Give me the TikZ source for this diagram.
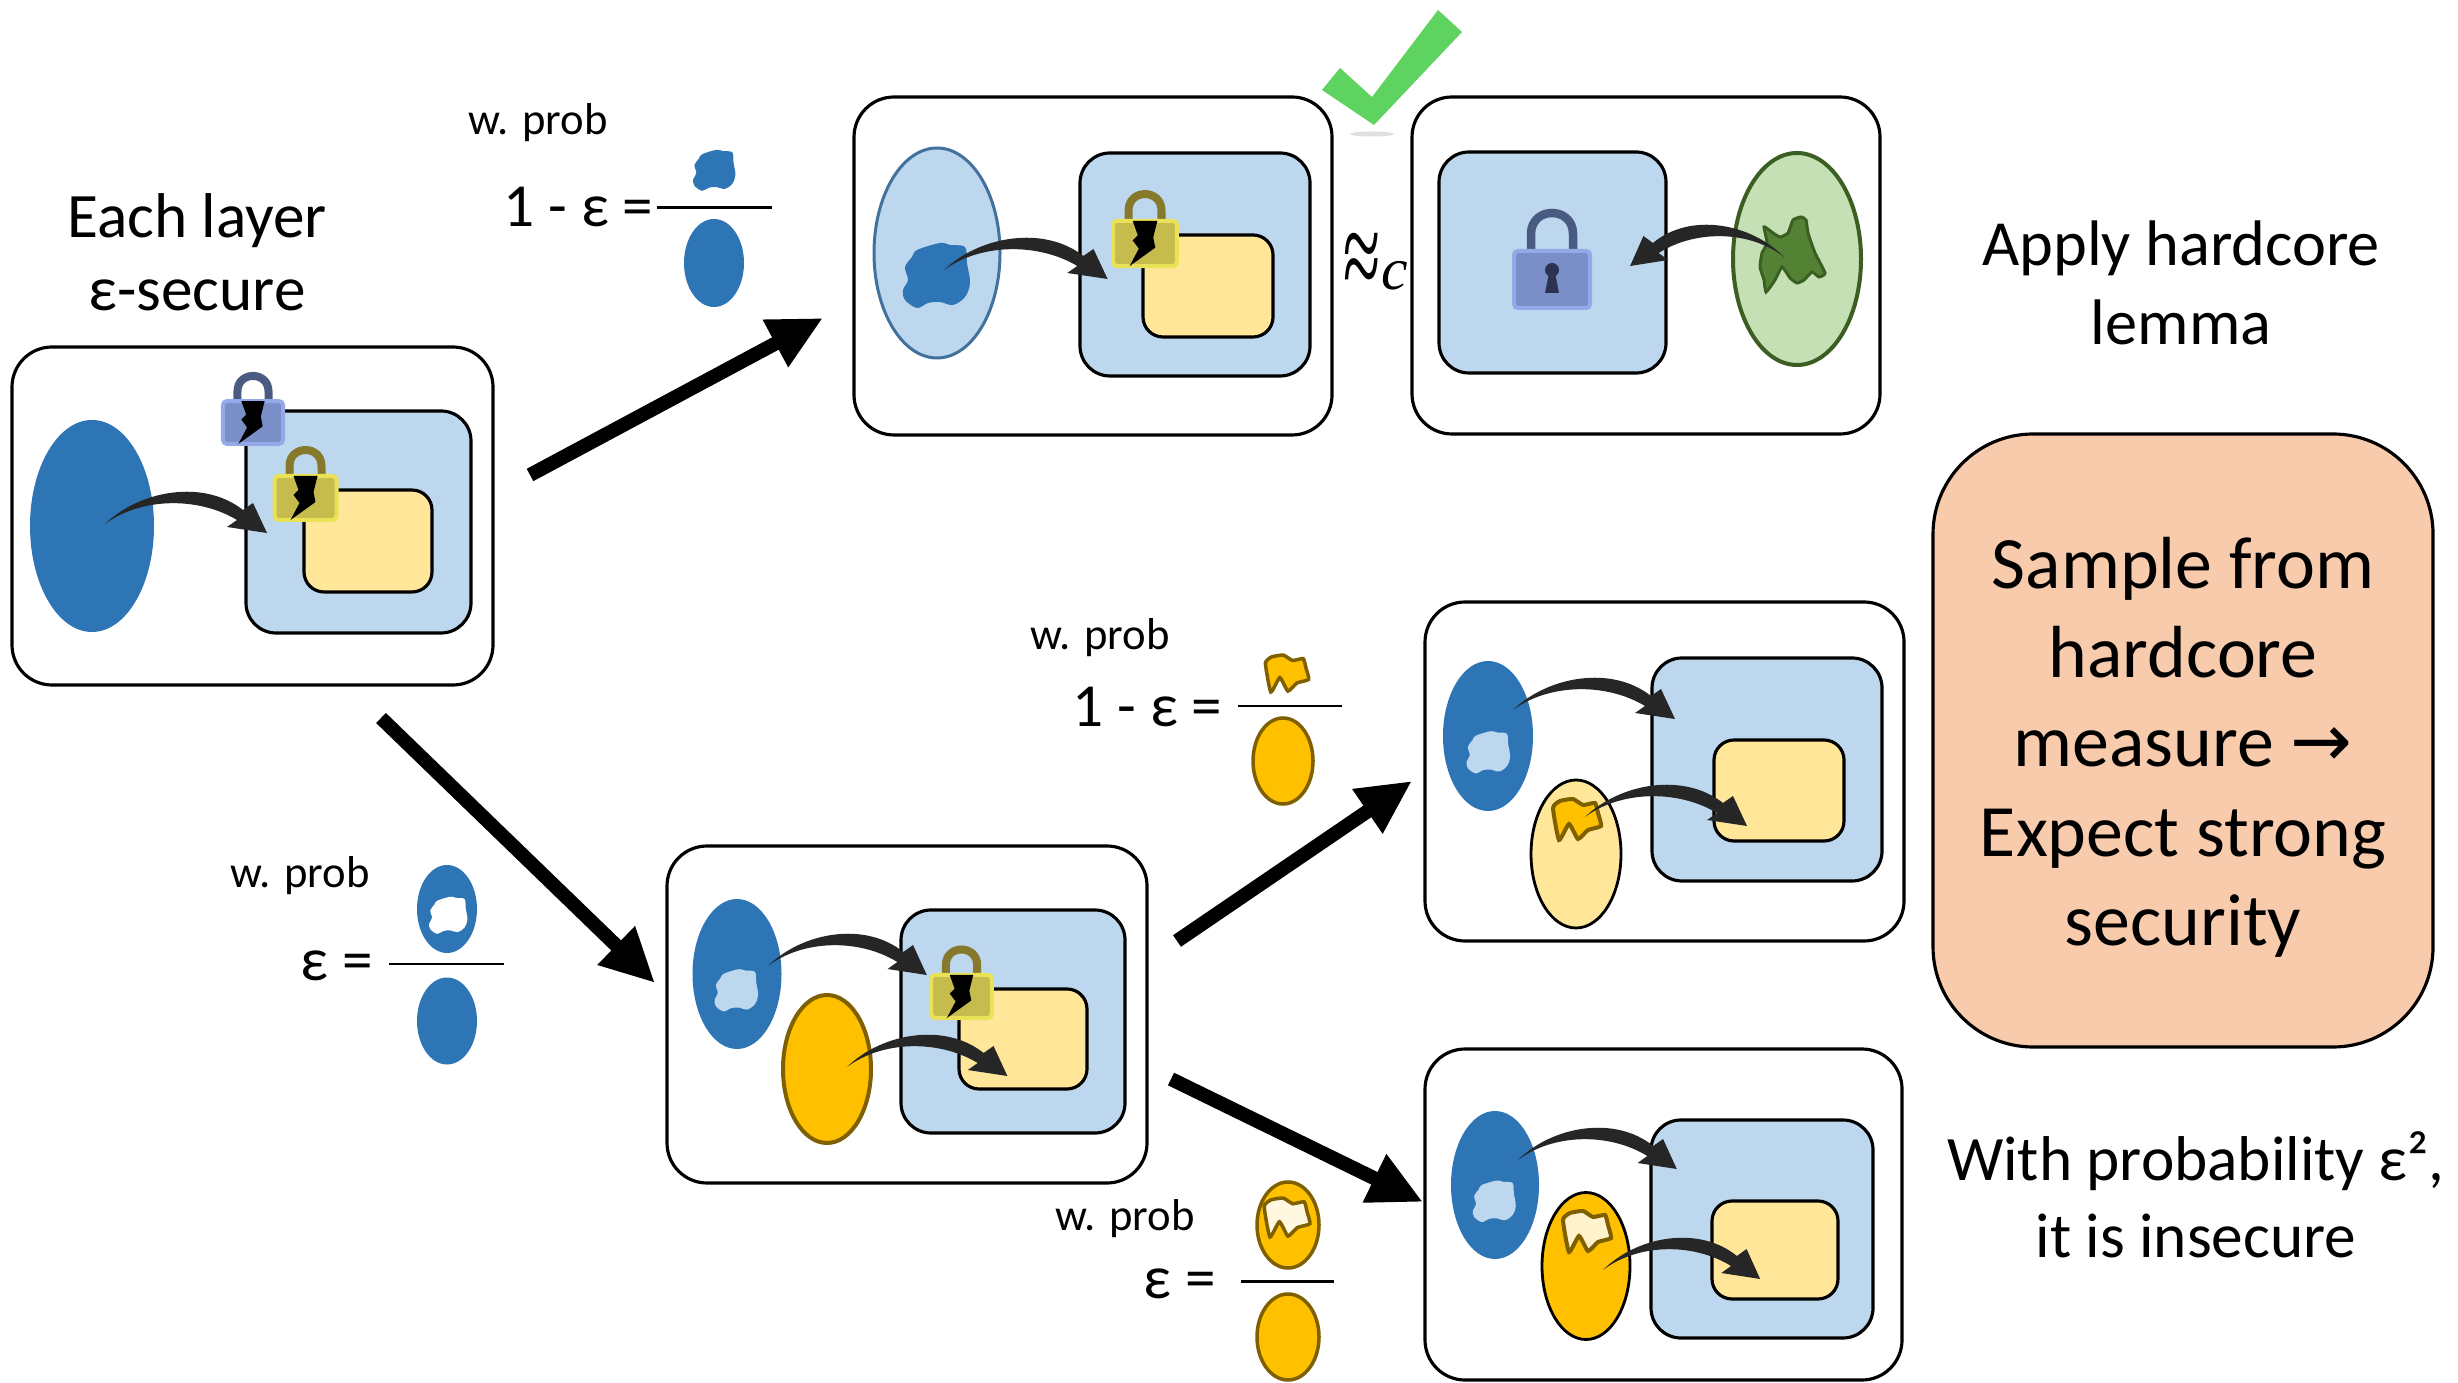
\documentclass[tikz,border=0pt]{standalone}
\usepackage{fontspec}
\setmainfont{Carlito}
\newfontfamily\symfont{DejaVu Sans}
\newfontfamily\timesfont{Liberation Serif}
\usetikzlibrary{arrows.meta,fit}

\definecolor{darkblu}{HTML}{2E75B6}
\definecolor{lightblu}{HTML}{BDD7EE}
\definecolor{blurim}{HTML}{41719C}
\definecolor{paleyel}{HTML}{FFE699}
\definecolor{gold}{HTML}{FFC000}
\definecolor{goldrim}{HTML}{7F6000}
\definecolor{cream}{HTML}{FFF2CC}
\definecolor{palegreen}{HTML}{C5E0B4}
\definecolor{greenrim}{HTML}{3B5E22}
\definecolor{leafgreen}{HTML}{548235}
\definecolor{peach}{HTML}{F8CBAD}
\definecolor{tickgreen}{HTML}{5FD35F}
\definecolor{swooshgray}{HTML}{262626}
\definecolor{ylockbody}{HTML}{C6BB4D}
\definecolor{ylockrim}{HTML}{E9E257}
\definecolor{ylockshackle}{HTML}{86792C}
\definecolor{blockbody}{HTML}{7A8EC8}
\definecolor{blockrim}{HTML}{93A9E8}
\definecolor{blockshackle}{HTML}{4A5B82}
\definecolor{keyhole}{HTML}{2B3350}

\tikzset{
  panel/.style={draw=black, line width=0.9pt, rounded corners=0.4cm, inner sep=0pt, fill=white},
  device/.style={draw=black, line width=0.9pt, rounded corners=0.3cm, fill=lightblu},
  core/.style={draw=black, line width=0.9pt, rounded corners=0.2cm, fill=paleyel},
  bigarrow/.style={line width=0.14cm, -{Triangle[length=0.54cm,width=0.5cm]}},
  fracline/.style={line width=0.85pt},
  wprob/.style={font=\fontsize{12.7}{15}\selectfont, anchor=base west, inner sep=0pt},
  eqtext/.style={font=\fontsize{17.4}{20}\selectfont, anchor=base west, inner sep=0pt},
  bigtext/.style={align=center, inner sep=0pt},
}

% tapered curved arrow: tail at the origin, tip at (162,9)
\newcommand{\swoosh}[1]{\fill[swooshgray,#1] (0,0) .. controls (35,-34) and (99,-45) .. (138,-14)
  -- (148,-21) -- (162,9) -- (122,3) -- (132,-4) .. controls (92,-28) and (35,-26) .. (0,0) -- cycle;}
% rounded blob marking a hard subset
\newcommand{\roundblob}[1]{\path[#1] plot[smooth cycle, tension=0.55] coordinates {(-19,-25) (4,-32) (14,-30) (29,-28) (31,-12) (34,8) (29,22) (17,30) (4,27) (-8,28) (-19,33) (-31,25) (-33,15) (-28,5) (-31,-8) (-24,-18)};}
% torn patch
\newcommand{\tornpatch}[1]{\path[#1] plot[smooth cycle, tension=0.3] coordinates {(-24,-12) (-18,20) (-8,4) (1,19) (11,10) (24,6) (21,-7) (18,-17) (6,-15) (-4,-21) (-17,-19)};}
% padlock with a crack; #1 placement, #2 colour prefix (y or b)
\newcommand{\brokenlock}[2]{%
  \begin{scope}[#1]
    \draw[#2lockshackle, line width=0.08cm] (-16,-22) -- (-16,-32) .. controls (-16,-53.3) and (16,-53.3) .. (16,-32) -- (16,-22);
    \draw[fill=#2lockbody, draw=#2lockrim, line width=0.4mm, rounded corners=0.4mm] (-31,-22) rectangle (31,22);
    \fill[black] (-12,-22) -- (12,-22) -- (8,-6) -- (10,4) -- (-15,22) -- (-6,5) -- (-12,-3) -- (-7,-8) -- cycle;
  \end{scope}}

\begin{document}
\begin{tikzpicture}[x=0.01cm, y=-0.01cm]
\useasboundingbox (0,0) rectangle (2458,1383);

% ---------- panels ----------
\node[panel, fit={(12,347) (493,685)}] (boxA) {};
\node[panel, fit={(854,97) (1332,435)}] (boxB) {};
\node[panel, fit={(1412,97) (1880,434)}] (boxC) {};
\node[panel, fit={(667,846) (1147,1183)}] (boxD) {};
\node[panel, fit={(1425,602) (1904,941)}] (boxE) {};
\node[panel, fit={(1425,1049) (1902,1380)}] (boxF) {};

% ---------- panel A: one layer ----------
\path[device] (246,411) rectangle (471,633);
\path[core] (304,490) rectangle (432,592);
\fill[darkblu] (92,526) ellipse [x radius=62, y radius=106];
\swoosh{shift={(105,524)}}
\brokenlock{shift={(253,422.5)}, scale=0.97}{b}
\brokenlock{shift={(305.5,498)}}{y}

% ---------- panel B ----------
\path[device] (1080,153) rectangle (1310,376);
\path[core] (1143,235) rectangle (1273,337);
\path[fill=lightblu, draw=blurim, line width=0.3mm] (937,253) ellipse [x radius=63, y radius=105];
\roundblob{fill=darkblu, shift={(936,275)}}
\swoosh{shift={(944,270)}, xscale=1.01}
\brokenlock{shift={(1145,243.5)}, scale=1.03}{y}

% ---------- check mark and approx ----------
\fill[gray!25] (1372,134) ellipse [x radius=22, y radius=2.5];
\fill[tickgreen] (1322,90) -- (1340,68) -- (1372,97) -- (1438,10) -- (1462,32) -- (1374,125) -- cycle;
\node[font=\timesfont\fontsize{24}{24}\selectfont, inner sep=0pt] (approx) at (1362,266) {\scalebox{0.8}[1.5]{≈}};
\node[font=\timesfont\itshape\fontsize{17}{17}\selectfont, anchor=base, inner sep=0pt] (csub) at (1395,290) {c};

% ---------- panel C ----------
\path[device] (1439,152) rectangle (1666,373);
\draw[blockshackle, line width=0.085cm] (1531,251) -- (1531,234) .. controls (1531,206) and (1573,206) .. (1573,234) -- (1573,251);
\draw[fill=blockbody, draw=blockrim, line width=0.4mm, rounded corners=0.4mm] (1514,251) rectangle (1590,308);
\fill[keyhole] (1552,270) circle [radius=7];
\fill[keyhole] (1549,273) -- (1545,293) -- (1559,293) -- (1555,273) -- cycle;
\path[fill=palegreen, draw=greenrim, line width=0.4mm] (1797,259) ellipse [x radius=64, y radius=106];
\path[fill=leafgreen, draw=greenrim, line width=0.3mm] plot[smooth cycle, tension=0.3] coordinates {(1764,227) (1769,230) (1773,233) (1780,237) (1788,233) (1793,220) (1801,217) (1806,220) (1808,233) (1815,253) (1825,273) (1819,277) (1812,272) (1804,280) (1797,283) (1790,278) (1782,267) (1775,280) (1766,292) (1764,280) (1760,267) (1762,253) (1767,243)};
\swoosh{shift={(1784,257)}, xscale=-0.95}

% ---------- panel D ----------
\path[device] (901,910) rectangle (1125,1133);
\path[core] (959,989) rectangle (1087,1089);
\fill[darkblu] (737,974) ellipse [x radius=44.5, y radius=75];
\roundblob{fill=lightblu, shift={(736,990)}, scale=0.65}
\path[fill=gold, draw=goldrim, line width=0.4mm] (827,1069) ellipse [x radius=44, y radius=74];
\swoosh{shift={(768,966)}, xscale=0.98}
\swoosh{shift={(847,1067)}, xscale=0.99}
\brokenlock{shift={(961.5,996.5)}, scale=0.98}{y}

% ---------- panel E ----------
\path[device] (1652,658) rectangle (1882,881);
\path[core] (1714,740) rectangle (1844,841);
\fill[darkblu] (1488,736) ellipse [x radius=45, y radius=75];
\roundblob{fill=lightblu, shift={(1488,752)}, scale=0.65}
\path[fill=paleyel, draw=black, line width=0.8pt] (1576,854) ellipse [x radius=45, y radius=74];
\tornpatch{fill=gold, draw=goldrim, line width=0.4mm, shift={(1577,820)}}
\swoosh{shift={(1513,710)}}
\swoosh{shift={(1585,817)}}

% ---------- panel F ----------
\path[device] (1651,1120) rectangle (1873,1338);
\path[core] (1712,1201) rectangle (1838,1299);
\fill[darkblu] (1495,1185) ellipse [x radius=44, y radius=74];
\roundblob{fill=lightblu, shift={(1494,1201)}, scale=0.64}
\path[fill=gold, draw=black, line width=0.8pt] (1586,1266) ellipse [x radius=44, y radius=73.5];
\tornpatch{fill=cream, draw=goldrim, line width=0.4mm, shift={(1587,1232)}}
\swoosh{shift={(1518,1160)}, xscale=0.98}
\swoosh{shift={(1603,1270)}, xscale=0.97}

% ---------- big transition arrows ----------
\coordinate (a1s) at (530,475);  \coordinate (a1e) at (823,318);
\coordinate (a2s) at (381,718);  \coordinate (a2e) at (655,983);
\coordinate (a3s) at (1177,941); \coordinate (a3e) at (1412,781);
\coordinate (a4s) at (1171,1079); \coordinate (a4e) at (1423,1202);
\draw[bigarrow] (a1s) -- (a1e);
\draw[bigarrow] (a2s) -- (a2e);
\draw[bigarrow] (a3s) -- (a3e);
\draw[bigarrow] (a4s) -- (a4e);

% ---------- probability labels ----------
\node[wprob] (wp1) at (468,135) {w. prob};
\node[eqtext] (eq1) at (503,227) {1 - ε =};
\draw[fracline] (657,208) -- (772,208);
\roundblob{fill=darkblu, shift={(714,170)}, scale=0.63}
\fill[darkblu] (714,263) ellipse [x radius=30, y radius=44];

\node[wprob] (wp2) at (1030,650) {w. prob};
\node[eqtext] (eq2) at (1072,727) {1 - ε =};
\draw[fracline] (1238,706) -- (1342,706);
\tornpatch{fill=gold, draw=goldrim, line width=0.35mm, shift={(1287,674)}, scale=0.9}
\path[fill=gold, draw=goldrim, line width=0.35mm] (1283,761) ellipse [x radius=30, y radius=43];

\node[wprob] (wp3) at (230,887) {w. prob};
\node[eqtext] (eq3) at (300,980) {ε =};
\draw[fracline] (389,964) -- (504,964);
\fill[darkblu] (447,909) ellipse [x radius=30, y radius=44];
\roundblob{fill=white, shift={(448,915)}, scale=0.57}
\fill[darkblu] (447,1021) ellipse [x radius=30, y radius=43.5];

\node[wprob] (wp4) at (1055,1230) {w. prob};
\node[eqtext] (eq4) at (1143,1298) {ε =};
\draw[fracline] (1241,1281) -- (1334,1281);
\path[fill=gold, draw=goldrim, line width=0.35mm] (1288,1225) ellipse [x radius=31, y radius=43];
\tornpatch{fill=cream!60!white, draw=goldrim, line width=0.35mm, shift={(1287,1218)}, scale=0.95}
\path[fill=gold, draw=goldrim, line width=0.35mm] (1288,1337) ellipse [x radius=31, y radius=43];

% ---------- captions ----------
\node[bigtext, font=\fontsize{18}{20.7}\selectfont] (eachlayer) at (197,252) {Each layer\\ε-secure};
\node[bigtext, font=\fontsize{18.3}{22.3}\selectfont] (applyhc) at (2181,283) {Apply hardcore\\lemma};
\node[fill=peach, draw=black, line width=0.9pt, rounded corners=1.0cm, inner sep=0pt, fit={(1933,434) (2433,1047)}] (hcbox) {};
\node[bigtext, font=\fontsize{21}{25.4}\selectfont] (hctext) at (2183,747) {Sample from\\hardcore\\measure {\symfont →}\\Expect strong\\security};
\node[bigtext, font=\fontsize{18}{21.8}\selectfont] (insecure) at (2196,1195) {With probability ε²,\\it is insecure};

\end{tikzpicture}
\end{document}
